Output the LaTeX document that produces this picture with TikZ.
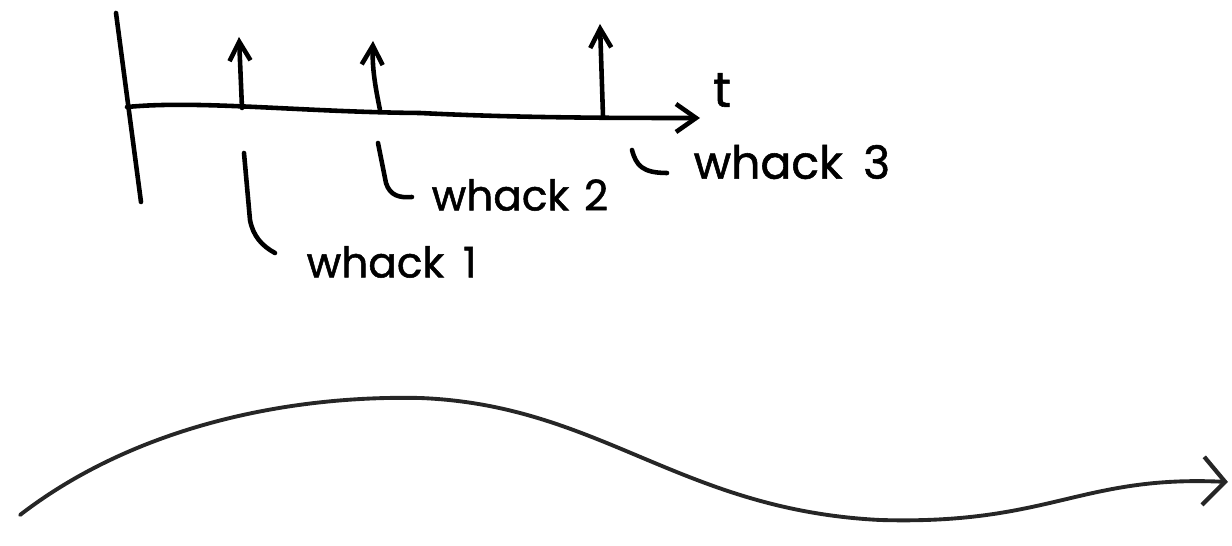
\documentclass[tikz,border=0pt]{standalone}
\usepackage{fontspec}
\setmainfont{Poppins}
\newfontfamily\handfont{Poppins}[FakeBold=1.2]
\usetikzlibrary{arrows.meta}
\begin{document}
\begin{tikzpicture}[x=0.01cm,y=-0.01cm,
  ink/.style={line width=1.3pt,line cap=round,line join=round,black},
  wave/.style={line width=1.1pt,line cap=round,line join=round,black!85},
  lbl/.style={font=\handfont\fontsize{12}{14}\selectfont,inner sep=0pt},
  spike/.style={ink,-{Straight Barb[length=1.9mm,width=2.1mm,line width=1.3pt]}}]
\useasboundingbox (0,0) rectangle (1232,546);
% axes
\coordinate (vtop) at (116,13);
\coordinate (vbot) at (141,202);
\draw[ink] (vtop) -- (vbot);
\coordinate (a0) at (127,107);
\coordinate (aend) at (700,118);
\draw[ink,-{Straight Barb[length=2mm,width=2.8mm,line width=1.3pt]}]
  (a0) .. controls (200,100) and (300,112) .. (420,113)
  .. controls (520,118) and (620,118) .. (aend);
\node[lbl,font=\handfont\fontsize{14}{16}\selectfont] (t) at (722,90) {t};
% spikes
\coordinate (s1b) at (242,108); \coordinate (s1t) at (239,37);
\coordinate (s2b) at (380,110); \coordinate (s2t) at (373,41);
\coordinate (s3b) at (603,116); \coordinate (s3t) at (600,24);
\draw[spike] (s1b) -- (s1t);
\draw[spike] (s2b) .. controls (376,90) and (372,70) .. (s2t);
\draw[spike] (s3b) -- (s3t);
% labels
\node[lbl,anchor=west] (w1) at (306,262) {whack\hspace{0.45em}1};
\node[lbl,anchor=west] (w2) at (431,195) {whack\hspace{0.35em}2};
\node[lbl,anchor=west,font=\handfont\fontsize{13}{16}\selectfont] (w3) at (693,162) {whack\hspace{0.45em}3};
\coordinate (b1a) at (244,153);
\coordinate (b2a) at (378,143);
\coordinate (b3a) at (632,150);
\draw[ink] (b1a) -- (250,220) .. controls (253,236) and (262,246) .. (275,253);
\draw[ink] (b2a) -- (386,183) .. controls (390,196) and (400,198) .. (412,197);
\draw[ink] (b3a) .. controls (636,165) and (642,173) .. (667,173);
% wave
\coordinate (ws) at (20,515);
\coordinate (we) at (1228,482);
\draw[wave,-{Straight Barb[length=2.2mm,width=4.8mm,line width=1.2pt]}]
  (ws) .. controls (130,430) and (280,395) .. (420,398)
  .. controls (600,405) and (680,510) .. (880,520)
  .. controls (1050,525) and (1080,475) .. (we);
\end{tikzpicture}
\end{document}
